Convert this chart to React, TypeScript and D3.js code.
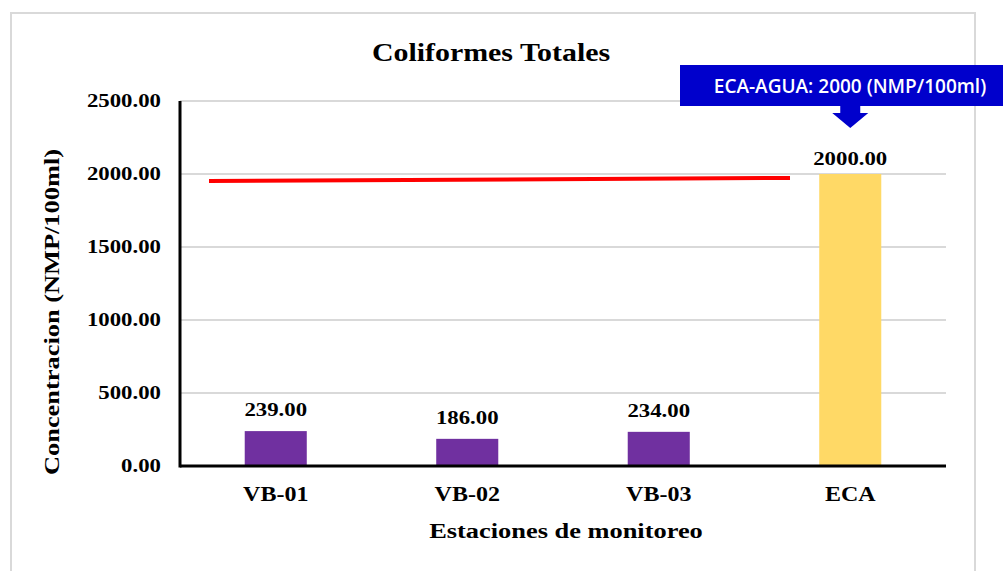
import React from 'react';
import * as d3 from 'd3';

// chart values
const stations = ['VB-01', 'VB-02', 'VB-03', 'ECA'];
const values = [239, 186, 234, 2000];
const yTicks = [0, 500, 1000, 1500, 2000, 2500];
// red limit line, drawn slightly tilted like in the original
const limitLine = [1952, 1973];

const width = 1003;
const height = 571;
const plot = { left: 180, right: 946, top: 101, bottom: 466 };

const serif = '"Liberation Serif", "Times New Roman", serif';
const stretch = 1.2; // the original picture is horizontally stretched

// bold serif text, widened a little along its baseline to look like the source
const SText = ({ x, y, size, anchor = 'middle', rotate = 0, sx = stretch, children }: any) => (
  <text transform={`translate(${x},${y}) rotate(${rotate}) scale(${sx},1)`}
    textAnchor={anchor} fontFamily={serif} fontWeight="bold" fontSize={size}>
    {children}
  </text>
);

const App = () => {
  const x = d3.scaleBand<string>()
    .domain(stations)
    .range([plot.left, plot.right])
    .paddingInner(0.676)
    .paddingOuter(0.338);

  const y = d3.scaleLinear().domain([0, 2500]).range([plot.bottom, plot.top]);

  // limit line spans from a bit inside the first band to inside the last band
  const lineX = d3.scaleLinear().domain([0, 1]).range([plot.left + 29, plot.left + 610]);
  const linePath = d3.line<number>()
    .x((d, i) => lineX(i))
    .y((d) => y(d))(limitLine);

  const ecaCenter = (x('ECA') as number) + x.bandwidth() / 2;

  return (
    <svg width={width} height={height}
      style={{ position: 'absolute', left: 0, top: 0, background: '#fff' }}>
      {/* outer frame (no bottom edge visible) */}
      <path d={`M11,${height} V13 H975 V${height}`} fill="none" stroke="#d9d9d9" strokeWidth={2} />

      <SText x={491} y={61} size={26} sx={1.15}>Coliformes Totales</SText>

      {/* gridlines */}
      {yTicks.filter((t) => t > 0).map((t) => (
        <line key={t} x1={plot.left} x2={plot.right} y1={y(t)} y2={y(t)} stroke="#d9d9d9" strokeWidth={2} />
      ))}

      {/* y tick labels */}
      {yTicks.map((t) => (
        <SText key={t} x={161} y={y(t) + 6} size={19} anchor="end">{t.toFixed(2)}</SText>
      ))}

      {/* bars */}
      {stations.map((s, i) => (
        <rect key={s} x={x(s)} y={y(values[i])} width={x.bandwidth()} height={y(0) - y(values[i])}
          fill={s === 'ECA' ? '#ffd966' : '#7030a0'} />
      ))}

      {/* value labels */}
      {stations.map((s, i) => (
        <SText key={s} x={(x(s) as number) + x.bandwidth() / 2} y={y(values[i]) - (s === 'ECA' ? 9 : 15)} size={19}>
          {values[i].toFixed(2)}
        </SText>
      ))}

      {/* limit line */}
      <path d={linePath || ''} fill="none" stroke="#ff0000" strokeWidth={4} />

      {/* axes */}
      <line x1={plot.left} x2={plot.left} y1={plot.top} y2={plot.bottom + 1.5} stroke="#000" strokeWidth={3} />
      <line x1={plot.left} x2={plot.right} y1={plot.bottom} y2={plot.bottom} stroke="#000" strokeWidth={3} />

      {/* x tick labels */}
      {stations.map((s) => (
        <SText key={s} x={(x(s) as number) + x.bandwidth() / 2} y={501} size={20}>{s}</SText>
      ))}

      {/* axis titles */}
      <SText x={566} y={538} size={22}>Estaciones de monitoreo</SText>
      <SText x={59} y={312} size={22} rotate={-90}>Concentracion (NMP/100ml)</SText>

      {/* callout */}
      <rect x={680} y={65} width={323} height={41} fill="#0000cc" />
      <rect x={ecaCenter - 10} y={105} width={20} height={9} fill="#0000cc" />
      <path d={`M${ecaCenter - 18},113 L${ecaCenter + 18},113 L${ecaCenter},128 Z`} fill="#0000cc" />
      <text x={850} y={93} textAnchor="middle" fill="#fff" fontFamily='"Open Sans", sans-serif'
        fontWeight={600} fontSize={19}>
        ECA-AGUA: 2000 (NMP/100ml)
      </text>
    </svg>
  );
};

export default App;
